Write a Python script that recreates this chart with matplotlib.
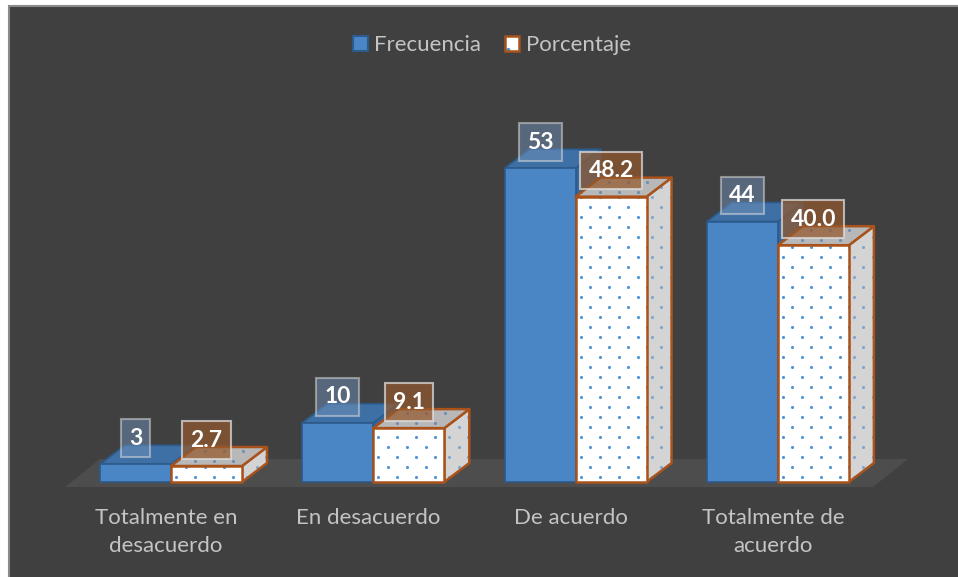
import matplotlib
matplotlib.use("Agg")
import numpy as np
import matplotlib.pyplot as plt
from matplotlib.patches import Polygon, Rectangle, Patch

# ---- data ----
categories = ["Totalmente en\ndesacuerdo", "En desacuerdo", "De acuerdo", "Totalmente de\nacuerdo"]
frecuencia = [3, 10, 53, 44]
porcentaje = [2.7, 9.1, 48.2, 40.0]
series_names = ["Frecuencia", "Porcentaje"]
pct_labels = ["2.7", "9.1", "48.2", "40.0"]

# ---- style ----
plt.rcParams['font.family'] = ['Lato', 'DejaVu Sans']
plt.rcParams['hatch.linewidth'] = 0.6
BG = '#404040'
FLOOR = '#4E4D4D'
BLUE_FRONT = '#4A86C6'
BLUE_TOP = '#3F70A5'
BLUE_SIDE = '#36659A'
BLUE_EDGE = '#2C5A8A'
BROWN = '#A9521B'
DOT = '#4F92D6'
TXT = '#C4C4C4'

W, H, DPI = 958, 577, 100
fig = plt.figure(figsize=(W / DPI, H / DPI), dpi=DPI)
fig.patch.set_facecolor('white')
panel = Rectangle((9 / W, -0.01), 1.02, (H - 6) / H + 0.01, transform=fig.transFigure,
                  facecolor=BG, edgecolor='#8A8A8A', lw=1.5, zorder=-5)
fig.patches.append(panel)

ax = fig.add_axes([0, 0, 1, 1])
ax.set_zorder(1)
ax.set_facecolor('none')
ax.axis('off')
PX_X = 202.3      # px per category
PX_Y = 5.92       # px per value unit
X0PX = 171
Y0PX = 482
ax.set_xlim(-X0PX / PX_X, (W - X0PX) / PX_X)
ax.set_ylim(-(H - Y0PX) / PX_Y, Y0PX / PX_Y)

BW = 71 / PX_X
DX = 25 / PX_X
DY = 19 / PX_Y

# floor
fl, fr = -106 / PX_X, 702 / PX_X
fy0, fy1 = -5 / PX_Y, 23 / PX_Y
fdx = 35 / PX_X
ax.add_patch(Polygon([(fl, fy0), (fr + 0.0, fy0), (fr + fdx, fy1), (fl + fdx, fy1)],
                     closed=True, facecolor=FLOOR, edgecolor='none', zorder=1))


def faces(x0, x1, v):
    front = [(x0, 0), (x1, 0), (x1, v), (x0, v)]
    top = [(x0, v), (x1, v), (x1 + DX, v + DY), (x0 + DX, v + DY)]
    side = [(x1, 0), (x1 + DX, DY), (x1 + DX, v + DY), (x1, v)]
    return front, top, side


def dot_texture(patch, poly, z, color):
    """Staggered dot texture clipped to a face (decoration only)."""
    xs = [p[0] for p in poly]
    ys = [p[1] for p in poly]
    sx, sy = 19 / PX_X, 10 / PX_Y
    pts = []
    for r, yy in enumerate(np.arange(min(ys) + 0.5 * sy, max(ys) + sy, sy)):
        off = (r % 2) * sx / 2
        for xx in np.arange(min(xs) + 5 / PX_X + off, max(xs) + sx, sx):
            pts.append((xx, yy))
    pts = np.array(pts)
    sc = ax.scatter(pts[:, 0], pts[:, 1], s=5, color=color, linewidths=0, zorder=z)
    sc.set_clip_path(patch)


z = 2
for i in range(len(categories)):
    # Frecuencia bar
    front, top, side = faces(i - BW, i, frecuencia[i])
    for poly, col in ((side, BLUE_SIDE), (top, BLUE_TOP), (front, BLUE_FRONT)):
        ax.add_patch(Polygon(poly, closed=True, facecolor=col, edgecolor=BLUE_EDGE,
                             lw=1.2, joinstyle='round', zorder=z))
        z += 1
    # Porcentaje bar
    front, top, side = faces(i, i + BW, porcentaje[i])
    for poly, col, dcol in ((side, '#D4D4D4', '#7DA6D0'), (top, '#B8B8B8', '#6E8FB2'),
                            (front, '#FFFFFF', DOT)):
        p = ax.add_patch(Polygon(poly, closed=True, facecolor=col, edgecolor='none',
                                 lw=0, zorder=z))
        dot_texture(p, poly, z + 0.2, dcol)
        ax.add_patch(Polygon(poly, closed=True, fill=False, edgecolor=BROWN, lw=1.8,
                             joinstyle='round', zorder=z + 0.5))
        z += 1

# data labels
OFF = 26 / PX_Y
for i in range(len(categories)):
    ax.text(i - BW / 2, frecuencia[i] + OFF, str(frecuencia[i]), ha='center', va='center',
            color='white', fontsize=16.5, fontweight='bold', zorder=100,
            bbox=dict(boxstyle='square,pad=0.36', facecolor='#7090B8', alpha=0.5,
                      edgecolor='#E0E0E0', lw=1.5))
    ax.text(i + BW / 2, porcentaje[i] + OFF, pct_labels[i], ha='center', va='center',
            color='white', fontsize=16.5, fontweight='bold', zorder=100,
            bbox=dict(boxstyle='square,pad=0.36', facecolor='#93592E', alpha=0.72,
                      edgecolor='#E0E0E0', lw=1.5))

# category labels
for i, lab in enumerate(categories):
    ax.text(i - 5 / PX_X, -26 / PX_Y, lab, ha='center', va='top', color=TXT,
            fontsize=16, linespacing=1.48, zorder=100)

# legend
h1 = Patch(facecolor=BLUE_FRONT, edgecolor=BLUE_EDGE, lw=1.5)
h2a = Patch(facecolor='white', edgecolor=DOT, hatch='.', lw=0)
h2b = Patch(fill=False, edgecolor=BROWN, lw=1.8)
leg = fig.legend([h1, (h2a, h2b)], series_names, loc='center',
                 bbox_to_anchor=(492 / W, 1 - 45 / H),
                 ncol=2, frameon=False, fontsize=16, labelcolor=TXT, handlelength=0.66,
                 handleheight=0.66, handletextpad=0.3, columnspacing=1.05)

fig.savefig('out.png', dpi=DPI, facecolor='white')
